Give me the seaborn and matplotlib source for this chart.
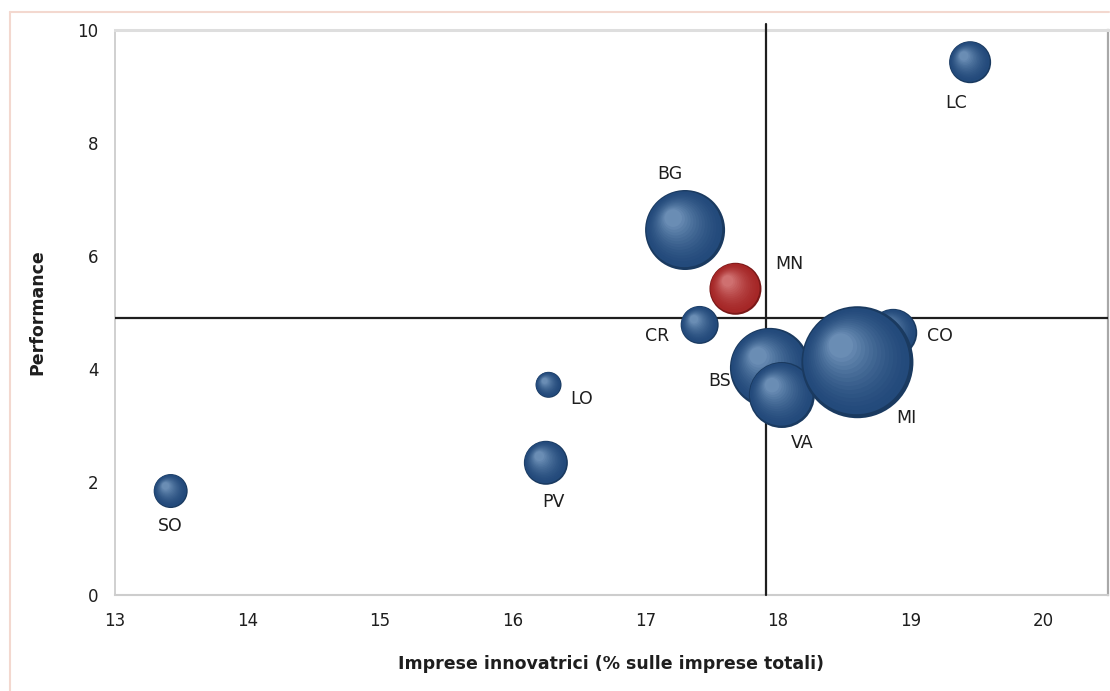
"""Bubble chart: imprese innovatrici vs performance, province lombarde."""

import numpy as np
import pandas as pd
import matplotlib
matplotlib.use("Agg")
import matplotlib.pyplot as plt
from matplotlib.lines import Line2D
from matplotlib.colors import to_rgb
import seaborn as sns

# --------------------------------------------------------
#       DATA
# --------------------------------------------------------
province = ["SO", "PV", "LO", "CR", "BG", "MN", "LC", "BS", "VA", "CO", "MI"]
innovatrici = [13.42, 16.25, 16.27, 17.41, 17.30, 17.68, 19.45, 17.94, 18.03, 18.87, 18.60]
performance = [1.84, 2.34, 3.72, 4.78, 6.46, 5.42, 9.43, 4.02, 3.54, 4.64, 4.12]
dimensione = [289, 484, 169, 361, 1600, 676, 441, 1600, 1089, 576, 3136]
gruppo = ["altre"] * 5 + ["MN"] + ["altre"] * 5

media_x = 17.91
media_y = 4.9

df = pd.DataFrame({"prov": province, "x": innovatrici, "y": performance,
                   "dim": dimensione, "gruppo": gruppo})

# label offsets (pixels) relative to bubble centre
label_offset = {"SO": (0, -35), "PV": (8, -39), "LO": (33, -14), "CR": (-43, -11),
                "BG": (-15, 56), "MN": (54, 25), "LC": (-14, -41), "BS": (-50, -13),
                "VA": (20, -48), "CO": (47, -3), "MI": (49, -56)}

# colours: rim, body, highlight
shade = {"altre": ("#1a3a60", "#22497a", "#6a8db4"),
         "MN": ("#7a1818", "#a52626", "#cf7070")}

# --------------------------------------------------------
#       PLOT
# --------------------------------------------------------
sns.set_style("white")
plt.rcParams["font.family"] = ["DejaVu Sans"]

fig = plt.figure(figsize=(11.1, 6.91), dpi=100)
ax = fig.add_axes([115 / 1110, 1 - 595 / 691, (1108 - 115) / 1110, (595 - 30) / 691])
ax.set_xlim(13, 20.49)
ax.set_ylim(0, 10)

# pixel -> data conversion for the highlight offsets
p0 = ax.transData.transform((13, 0))
p1 = ax.transData.transform((14, 1))
px_x = p1[0] - p0[0]
px_y = p1[1] - p0[1]

k = (1.44) ** 2  # area (pt^2) per unit of dimensione at dpi 100
s_min, s_max = k * min(dimensione), k * max(dimensione)
norm = (min(dimensione), max(dimensione))

n_layers = 16
fracs = np.linspace(1.0, 0.22, n_layers)

for i, row in df.iterrows():
    rim, body, light = [np.array(to_rgb(c)) for c in shade[row["gruppo"]]]
    r_px = np.sqrt(k * row["dim"]) / 2 / 0.72
    for j, f in enumerate(fracs):
        if j == 0:
            col = rim
        else:
            t = ((1 - f) / (1 - fracs[-1])) ** 1.7
            col = body * (1 - t) + light * t
        shift = (1 - f) * 0.38 * r_px
        one = pd.DataFrame({"x": [row["x"] - shift / px_x],
                            "y": [row["y"] + shift / px_y],
                            "dim": [row["dim"]]})
        sns.scatterplot(data=one, x="x", y="y", size="dim",
                        sizes=(s_min * f * f, s_max * f * f), size_norm=norm,
                        color=tuple(col), edgecolor="none", linewidth=0,
                        legend=False, ax=ax, zorder=10 + i * 20 + j)
    dx, dy = label_offset[row["prov"]]
    ax.annotate(row["prov"], (row["x"], row["y"]), xytext=(dx, dy),
                textcoords="offset pixels", ha="center", va="center",
                fontsize=12.5, color="#1e1e1e", zorder=400)

# quadrant lines (averages)
ax.axvline(media_x, ymin=0, ymax=1.01, color="#1e1e1e", lw=1.6, zorder=5, clip_on=False)
ax.axhline(media_y, color="#1e1e1e", lw=1.6, zorder=5)

# axes look
ax.set_xticks(range(13, 21))
ax.set_yticks(range(0, 11, 2))
ax.tick_params(axis="both", which="major", labelsize=12, colors="#1e1e1e",
               length=4, width=1, direction="out", pad=8)
ax.tick_params(axis="both", color="#c8c8c8")
for side, c, w in [("left", "#cdcdcd", 1.3), ("bottom", "#cdcdcd", 1.5),
                   ("top", "#dedede", 2.2), ("right", "#a8a8a8", 1.6)]:
    ax.spines[side].set_visible(True)
    ax.spines[side].set_color(c)
    ax.spines[side].set_linewidth(w)

ax.set_xlabel("Imprese innovatrici (% sulle imprese totali)", fontsize=12.5,
              fontweight="bold", color="#1e1e1e", labelpad=18)
ax.set_ylabel("Performance", fontsize=12.5, fontweight="bold", color="#1e1e1e",
              labelpad=22)

# outer frame
fig.add_artist(Line2D([10 / 1110, 0.999], [1 - 12 / 691, 1 - 12 / 691],
                      transform=fig.transFigure, color="#f3d8cf", lw=1.5))
fig.add_artist(Line2D([10 / 1110, 10 / 1110], [0.0, 1 - 12 / 691],
                      transform=fig.transFigure, color="#f3d8cf", lw=1.5))

fig.savefig("out.png", dpi=100)
